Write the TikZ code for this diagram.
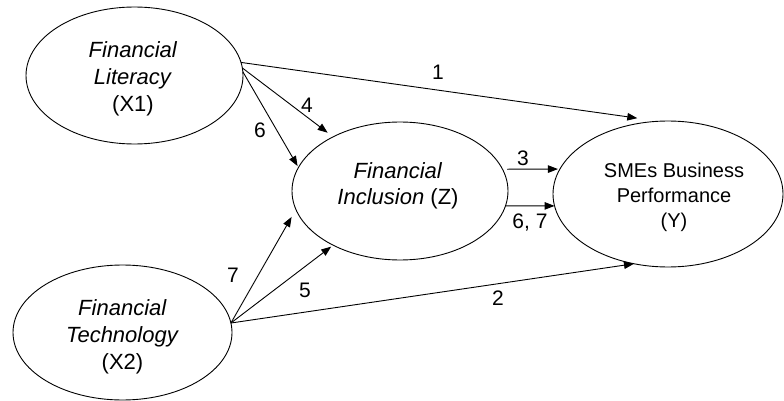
\documentclass[tikz,border=0pt]{standalone}
\usepackage{fontspec}
\setmainfont{Liberation Sans}
\usetikzlibrary{arrows.meta,shapes.geometric,calc}
\begin{document}
\begin{tikzpicture}[x=1pt,y=-1pt,
  latent/.style={ellipse,draw,line width=0.9pt,inner sep=0pt,outer sep=0pt},
  txt/.style={align=center,inner sep=0pt},
  xfont/.style={font=\fontsize{22}{26.7}\selectfont},
  yfont/.style={font=\fontsize{20}{25.3}\selectfont},
  zfont/.style={font=\fontsize{22}{26}\selectfont},
  link/.style={line width=0.9pt,-{Triangle[length=10pt,width=7.5pt]}},
  lab/.style={font=\fontsize{21}{24}\selectfont,inner sep=0pt}]
\useasboundingbox (0,0) rectangle (784,401);
% ellipses
\node[latent,minimum width=217pt,minimum height=137pt] (x1) at (134.5,75.5) {};
\node[latent,minimum width=219pt,minimum height=135pt] (x2) at (122.5,332.5) {};
\node[latent,minimum width=216pt,minimum height=138pt] (z) at (400,191) {};
\node[latent,minimum width=230pt,minimum height=146pt] (y) at (668,194) {};
% texts
\node[txt,xfont] (x1t) at ($(x1.center)+(-1.5,3.5)$) {\textit{Financial}\\\textit{Literacy}\\(X1)};
\node[txt,xfont] (x2t) at ($(x2.center)+(0,4.5)$) {\textit{Financial}\\\textit{Technology}\\(X2)};
\node[txt,zfont] (zt) at ($(z.center)+(-2,-5)$) {\textit{Financial}\\\textit{Inclusion} (Z)};
\node[txt,yfont] (yt) at ($(y.center)+(6,3.5)$) {SMEs Business\\Performance\\(Y)};
% connectors
\draw[link,shorten >=22pt] (x1.7) -- (y.97.8);
\draw[link,shorten >=6.8pt] (x1.4.5) -- (z.141.5);
\draw[link,shorten >=1.7pt] (x1.2) -- (z.167.6);
\draw[link,shorten <=4.6pt,shorten >=2pt] (z.12.1) -- (y.167);
\draw[link] (z.-8.1) -- (y.186);
\draw[link,shorten >=8.7pt] (x2.5) -- (z.190.6);
\draw[link,shorten >=2.4pt] (x2.5) -- (z.219.5);
\draw[link] (x2.5) -- (y.244);
% labels
\node[lab] (l1) at (438,72) {1};
\node[lab] (l4) at (307,105) {4};
\node[lab] (l6) at (260,130) {6};
\node[lab] (l3) at (523,158) {3};
\node[lab] (l67) at (530,223) {6, 7};
\node[lab] (l7) at (233,275) {7};
\node[lab] (l5) at (305,290) {5};
\node[lab] (l2) at (498,298) {2};
\end{tikzpicture}
\end{document}
